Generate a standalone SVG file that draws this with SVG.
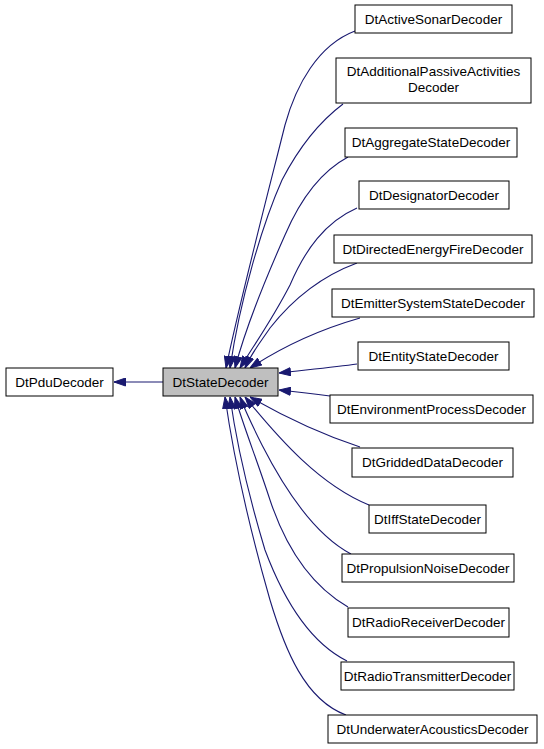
<svg xmlns="http://www.w3.org/2000/svg" width="544" height="749" viewBox="0 0 544 749">
<style>
.n rect{fill:#ffffff;stroke:#000000;stroke-width:1}
.n text{font-family:"Liberation Sans",Arial,sans-serif;font-size:13.5px;text-anchor:middle;fill:#000000}
#edges path{fill:none;stroke:#191970;stroke-width:1.1;marker-end:url(#ah)}
</style>
<defs>
<marker id="ah" markerUnits="userSpaceOnUse" markerWidth="12" markerHeight="9" refX="12" refY="4.5" orient="auto" viewBox="0 0 12 9">
<path d="M0.5,0.5 L12,4.5 L0.5,8.5 z" fill="#191970" stroke="#191970" stroke-width="1"/>
</marker>
</defs>
<rect width="544" height="749" fill="#ffffff"/>
<g id="edges">
<path d="M163,382 L114,382"/>
<path d="M355,31 C318,45 296,85 285,125 C270,185 240,300 226,368"/>
<path d="M343,104 C315,125 295,155 282,180 C262,225 240,300 230,368"/>
<path d="M348,157 C320,172 300,200 285,235 C265,280 245,330 235,368"/>
<path d="M357,208 C325,222 305,250 290,285 C272,320 254,345 240,368"/>
<path d="M357,263 C322,276 292,300 270,328 C262,340 252,352 245,368"/>
<path d="M360,318 C325,328 285,345 250,368"/>
<path d="M357,364 C335,367 305,370 279,373"/>
<path d="M330,396 C315,394 298,392 279,390"/>
<path d="M360,447 C330,437 290,420 250,397"/>
<path d="M369,505 C320,485 280,440 245,397"/>
<path d="M351,554 C315,535 285,490 262,445 C252,425 245,410 240,397"/>
<path d="M348,607 C310,585 285,545 270,500 C257,460 243,425 235,397"/>
<path d="M347,661 C305,640 280,590 265,550 C247,490 236,440 230,397"/>
<path d="M346,715 C305,700 285,650 270,600 C250,530 234,460 225,397"/>
</g>
<g id="DtPduDecoder" class="n"><rect x="6" y="368" width="107" height="28"/><text x="59.5" y="386.5">DtPduDecoder</text></g>
<g id="DtStateDecoder" class="n"><rect x="163" y="368" width="115" height="28" style="fill:#bfbfbf"/><text x="220.5" y="386.5">DtStateDecoder</text></g>
<g id="DtActiveSonarDecoder" class="n"><rect x="355" y="5" width="157" height="28"/><text x="433.5" y="23.5">DtActiveSonarDecoder</text></g>
<g id="DtAdditionalPassiveActivitiesDecoder" class="n"><rect x="336" y="58" width="195" height="45"/><text x="433.5" y="76">DtAdditionalPassiveActivities</text><text x="433.5" y="92">Decoder</text></g>
<g id="DtAggregateStateDecoder" class="n"><rect x="345" y="128" width="172" height="29"/><text x="431" y="147">DtAggregateStateDecoder</text></g>
<g id="DtDesignatorDecoder" class="n"><rect x="359" y="181" width="150" height="28"/><text x="434" y="199.5">DtDesignatorDecoder</text></g>
<g id="DtDirectedEnergyFireDecoder" class="n"><rect x="334" y="235" width="198" height="28"/><text x="433" y="253.5">DtDirectedEnergyFireDecoder</text></g>
<g id="DtEmitterSystemStateDecoder" class="n"><rect x="332" y="289" width="202" height="28"/><text x="433" y="307.5">DtEmitterSystemStateDecoder</text></g>
<g id="DtEntityStateDecoder" class="n"><rect x="358" y="342" width="151" height="28"/><text x="433.5" y="360.5">DtEntityStateDecoder</text></g>
<g id="DtEnvironmentProcessDecoder" class="n"><rect x="330" y="395" width="203" height="28"/><text x="431.5" y="413.5">DtEnvironmentProcessDecoder</text></g>
<g id="DtGriddedDataDecoder" class="n"><rect x="352" y="448" width="161" height="29"/><text x="432.5" y="467">DtGriddedDataDecoder</text></g>
<g id="DtIffStateDecoder" class="n"><rect x="369" y="505" width="117" height="28"/><text x="427.5" y="523.5">DtIffStateDecoder</text></g>
<g id="DtPropulsionNoiseDecoder" class="n"><rect x="342" y="554" width="172" height="28"/><text x="428" y="572.5">DtPropulsionNoiseDecoder</text></g>
<g id="DtRadioReceiverDecoder" class="n"><rect x="348" y="608" width="161" height="29"/><text x="428.5" y="627">DtRadioReceiverDecoder</text></g>
<g id="DtRadioTransmitterDecoder" class="n"><rect x="341" y="662" width="173" height="28"/><text x="427.5" y="680.5">DtRadioTransmitterDecoder</text></g>
<g id="DtUnderwaterAcousticsDecoder" class="n"><rect x="328" y="715" width="209" height="28"/><text x="432.5" y="733.5">DtUnderwaterAcousticsDecoder</text></g>
</svg>
